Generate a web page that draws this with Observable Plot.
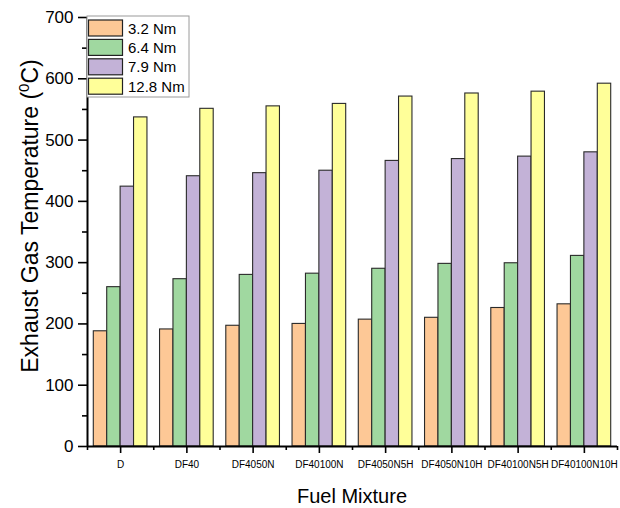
<!DOCTYPE html>
<html>
<head>
<meta charset="utf-8">
<script src="https://cdn.jsdelivr.net/npm/d3@7"></script>
<script src="https://cdn.jsdelivr.net/npm/@observablehq/plot@0.6"></script>
<style>
  html, body { margin: 0; padding: 0; background: #fff; }
  #chart { width: 620px; height: 508px; }
  svg { font-family: "Liberation Sans", Arial, sans-serif; }
</style>
</head>
<body>
<div id="chart"></div>
<script>
// Fuel mixtures on the x axis
const mixtures = ["D", "DF40", "DF4050N", "DF40100N", "DF4050N5H", "DF4050N10H", "DF40100N5H", "DF40100N10H"];
// Engine loads (one bar per load inside each group)
const loads = ["3.2 Nm", "6.4 Nm", "7.9 Nm", "12.8 Nm"];
const loadColors = ["#FDC896", "#A0D8A0", "#C3B2D7", "#FFFF99"];
// Exhaust gas temperature (°C) per load, in mixture order
const egt32 = [188, 191, 197, 200, 207, 210, 226, 232];
const egt64 = [260, 273, 280, 282, 290, 298, 299, 311];
const egt79 = [424, 441, 446, 450, 466, 469, 473, 480];
const egt128 = [537, 551, 555, 559, 571, 576, 579, 592];
const yTicks = [0, 100, 200, 300, 400, 500, 600, 700];

const series = [egt32, egt64, egt79, egt128];
const rows = [];
mixtures.forEach((m, i) => {
  series.forEach((vals, j) => {
    rows.push({mixture: m, slot: i, load: loads[j], k: j, value: vals[i]});
  });
});

// grouped bars on a linear slot scale: group i spans [i, i+1]
const groupWidth = 0.81;
const barWidth = groupWidth / loads.length;
const left = d => d.slot + (1 - groupWidth) / 2 + d.k * barWidth;

const centers = mixtures.map((_, i) => i + 0.5);
const bounds = d3.range(0, mixtures.length + 1);
const minorY = d3.range(50, 700, 100);

const chart = Plot.plot({
  width: 620,
  height: 508,
  marginLeft: 87,
  marginRight: 3,
  marginTop: 17,
  marginBottom: 62,
  style: {fontFamily: "Liberation Sans, Arial, sans-serif", background: "#fff", overflow: "visible"},
  x: {domain: [0, mixtures.length], axis: null},
  y: {domain: [0, 700], axis: null},
  color: {type: "ordinal", domain: loads, range: loadColors},
  marks: [
    Plot.rectY(rows, {
      x1: left,
      x2: d => left(d) + barWidth,
      y: "value",
      fill: "load",
      stroke: "#2a2a2a",
      strokeWidth: 1.1
    }),
    // y axis: major and minor ticks
    Plot.axisY({ticks: yTicks, tickSize: 9, tickPadding: 5, fontSize: 17, label: null, stroke: "#000", strokeWidth: 1.6, color: "#000", tickFormat: d => d}),
    Plot.axisY({ticks: minorY, tickSize: 5, text: null, label: null, stroke: "#000", strokeWidth: 1.6}),
    // x axis: labelled ticks at group centres, short ticks at group boundaries
    Plot.axisX({ticks: centers, tickSize: 7, tickPadding: 7, fontSize: 10, label: null, stroke: "#000", strokeWidth: 1.6, color: "#000",
      tickFormat: d => mixtures[Math.round(d - 0.5)]}),
    Plot.axisX({ticks: bounds, tickSize: 4, text: null, label: null, stroke: "#000", strokeWidth: 1.6}),
    // axis lines
    Plot.ruleX([0], {y1: 0, y2: 700, stroke: "#000", strokeWidth: 2}),
    Plot.ruleY([0], {stroke: "#000", strokeWidth: 2})
  ]
});

document.getElementById("chart").appendChild(chart);

const svg = d3.select(chart);

// axis titles
svg.append("text")
  .attr("x", 352)
  .attr("y", 503)
  .attr("text-anchor", "middle")
  .attr("font-size", 20)
  .attr("fill", "#000")
  .text("Fuel Mixture");

const yTitle = svg.append("text")
  .attr("transform", "translate(38,216) rotate(-90)")
  .attr("text-anchor", "middle")
  .attr("font-size", 23)
  .attr("fill", "#000");
yTitle.append("tspan").text("Exhaust Gas Temperature (");
yTitle.append("tspan").attr("font-size", 15).attr("dy", -9).text("0");
yTitle.append("tspan").attr("dy", 9).text("C)");

// legend box in the upper-left corner of the plot area
const lg = svg.append("g").attr("transform", "translate(87,16)");
lg.append("rect")
  .attr("width", 102).attr("height", 81)
  .attr("fill", "#fff").attr("stroke", "#9a9a9a").attr("stroke-width", 1);
loads.forEach((name, j) => {
  const row = lg.append("g").attr("transform", `translate(0,${4 + j * 19.4})`);
  row.append("rect")
    .attr("x", 1.5).attr("y", 0).attr("width", 34).attr("height", 16)
    .attr("fill", loadColors[j]).attr("stroke", "#222").attr("stroke-width", 1.2);
  row.append("text")
    .attr("x", 41).attr("y", 13.5)
    .attr("text-anchor", "start")
    .attr("font-size", 15).attr("fill", "#000")
    .text(name);
});
</script>
</body>
</html>
